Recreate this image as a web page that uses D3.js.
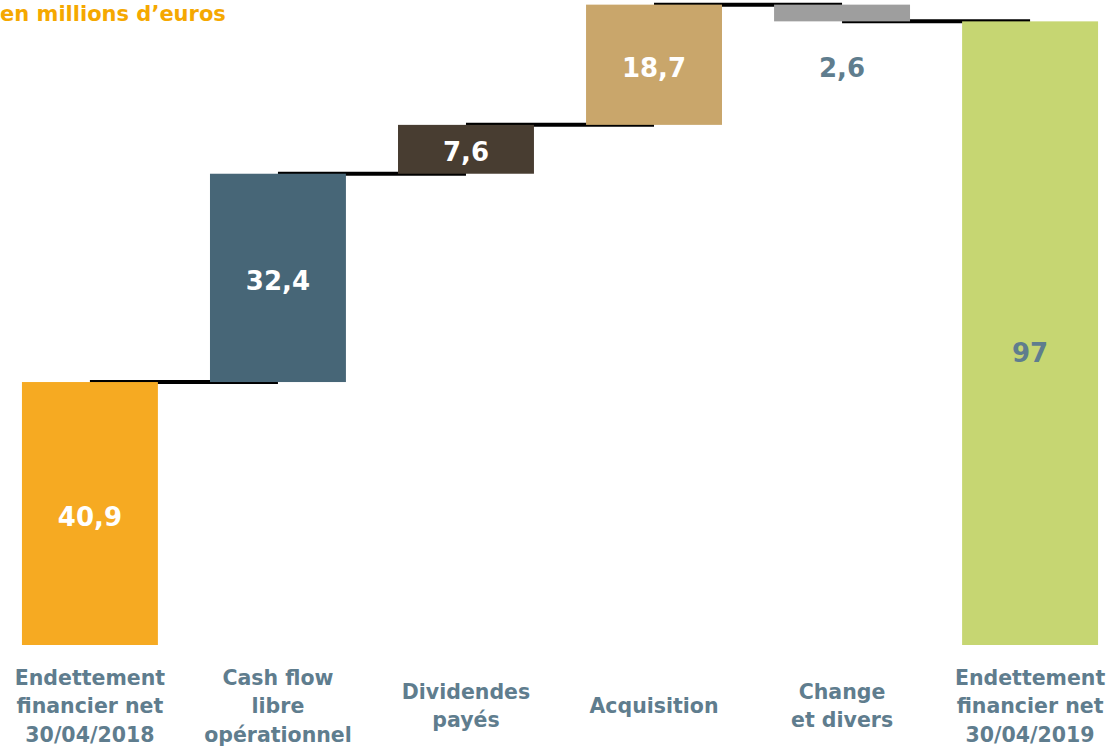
<!DOCTYPE html>
<html lang="fr">
<head>
<meta charset="UTF-8">
<title>Endettement financier net</title>
<script src="https://d3js.org/d3.v7.min.js"></script>
<style>
  body { margin: 0; background: #fff; }
  svg { display: block; font-family: "DejaVu Sans", sans-serif; font-weight: bold; }
  .cat { fill: #5f7d8e; font-size: 20.5px; }
  .val { font-size: 26px; }
</style>
</head>
<body>
<div id="chart"></div>
<script>
// données
const categories = ["Endettement financier net 30/04/2018", "Cash flow libre opérationnel", "Dividendes payés", "Acquisition", "Change et divers", "Endettement financier net 30/04/2019"];
const catLines = [
  ["Endettement", "financier net", "30/04/2018"],
  ["Cash flow", "libre", "opérationnel"],
  ["Dividendes", "payés"],
  ["Acquisition"],
  ["Change", "et divers"],
  ["Endettement", "financier net", "30/04/2019"]
];
const values = [40.9, 32.4, 7.6, 18.7, -2.6, 97];
const isTotal = [true, false, false, false, false, true];

const colors = ["#f6aa22", "#476677", "#483d31", "#c9a66b", "#9e9e9e", "#c6d672"];
const labelColors = ["#fff", "#fff", "#fff", "#fff", "#5f7d8e", "#5f7d8e"];

const W = 1120, H = 748;
const svg = d3.select("#chart").append("svg").attr("width", W).attr("height", H);

// calcul cascade
let run = 0;
const steps = values.map((v, i) => {
  let y0, y1;
  if (isTotal[i]) { y0 = 0; y1 = v; run = v; }
  else { y0 = run; y1 = run + v; run = y1; }
  return { cat: categories[i], v, y0, y1, end: run, i };
});

const x = d3.scaleBand().domain(categories).range([-4, 1124]).paddingInner(0.277).paddingOuter(0.138);
const y = d3.scaleLinear().domain([0, 98.3]).range([645, 13]);
const bw = x.bandwidth();

// connecteurs
svg.append("g").selectAll("line")
  .data(steps.slice(0, -1))
  .join("line")
  .attr("x1", d => x(d.cat) + bw / 2)
  .attr("x2", d => x(categories[d.i + 1]) + bw / 2)
  .attr("y1", d => y(d.end))
  .attr("y2", d => y(d.end))
  .attr("stroke", "#000")
  .attr("stroke-width", 4);

// barres
svg.append("g").selectAll("rect")
  .data(steps)
  .join("rect")
  .attr("x", d => x(d.cat))
  .attr("width", bw)
  .attr("y", d => y(Math.max(d.y0, d.y1)))
  .attr("height", d => Math.abs(y(d.y0) - y(d.y1)))
  .attr("fill", (d, i) => colors[i]);

// valeurs
const fmt = v => String(Math.abs(v)).replace(".", ",");
svg.append("g").selectAll("text")
  .data(steps)
  .join("text")
  .attr("class", "val")
  .attr("text-anchor", "middle")
  .attr("dy", "0.35em")
  .attr("x", d => x(d.cat) + bw / 2)
  .attr("y", d => {
    if (d.v < 0) return y(Math.min(d.y0, d.y1)) + 47;
    if (d.i === 5) return (y(d.y0) + y(d.y1)) / 2 + 20;
    return (y(d.y0) + y(d.y1)) / 2 + 3;
  })
  .attr("fill", (d, i) => labelColors[i])
  .text(d => fmt(d.v));

// libellés des catégories
const cg = svg.append("g").selectAll("text")
  .data(steps)
  .join("text")
  .attr("class", "cat")
  .attr("text-anchor", "middle")
  .attr("x", d => x(d.cat) + bw / 2);
cg.selectAll("tspan")
  .data((d, i) => catLines[i].map((t, k, a) => ({ t, k, n: a.length, cx: x(d.cat) + bw / 2 })))
  .join("tspan")
  .attr("x", d => d.cx)
  .attr("y", d => 706 + (d.k - (d.n - 1) / 2) * 28.5)
  .attr("dy", "0.35em")
  .text(d => d.t);

// titre
svg.append("text")
  .attr("x", 0).attr("y", 21)
  .attr("fill", "#f5a800")
  .style("font-size", "21px")
  .text("en millions d’euros");
</script>
</body>
</html>
